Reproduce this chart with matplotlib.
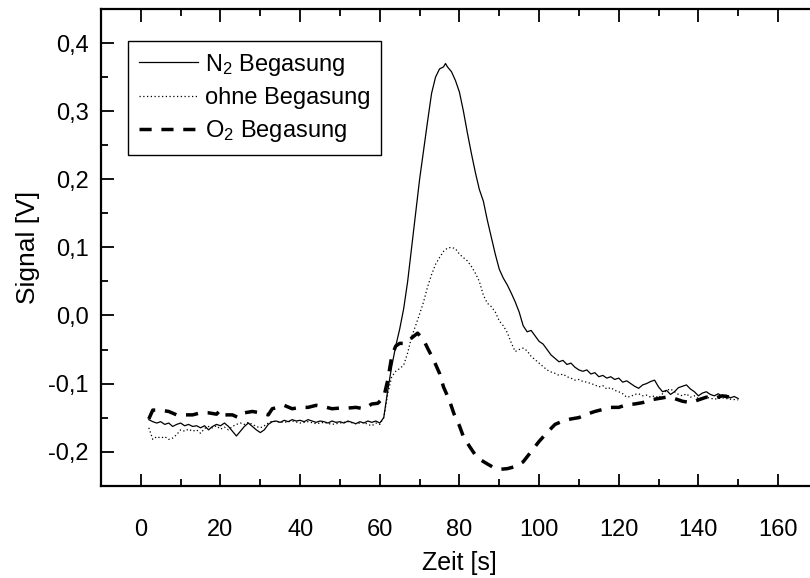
import matplotlib
matplotlib.use('Agg')
import matplotlib.pyplot as plt
from matplotlib.ticker import MultipleLocator, FuncFormatter

plt.rcParams['font.family'] = ['Liberation Sans', 'DejaVu Sans']
plt.rcParams['mathtext.fontset'] = 'custom'
plt.rcParams['mathtext.rm'] = 'Liberation Sans'
plt.rcParams['mathtext.it'] = 'Liberation Sans'

# N2 Begasung
t_n2 = [2, 3, 4, 5, 6, 7, 8, 9, 10, 11, 12, 13, 14, 15, 16, 17, 18, 19, 20,
        21, 22, 23, 24, 25, 26, 27, 28, 29, 30, 31, 32, 33, 34, 35, 36, 37, 38,
        39, 40, 41, 42, 43, 44, 45, 46, 47, 48, 49, 50, 51, 52, 53, 54, 55, 56,
        57, 58, 59, 60, 61, 62, 63, 64, 65, 66, 67, 68, 69, 70, 71, 72, 73, 74,
        75, 76, 76.5, 77, 78, 79, 80, 81, 82, 83, 84, 85, 86, 87, 88, 89, 90,
        91, 92, 93, 94, 95, 96, 97, 98, 99, 100, 101, 102, 103, 104, 105, 106,
        107, 108, 109, 110, 111, 112, 113, 114, 115, 116, 117, 118, 119, 120,
        121, 122, 123, 124, 125, 126, 127, 128, 129, 130, 131, 132, 133, 134,
        135, 136, 137, 138, 139, 140, 141, 142, 143, 144, 145, 146, 147, 148,
        149, 150]
y_n2 = [-0.153, -0.156, -0.158, -0.156, -0.160, -0.158, -0.163, -0.160, -0.158,
        -0.162, -0.160, -0.163, -0.162, -0.165, -0.162, -0.168, -0.163, -0.160,
        -0.162, -0.158, -0.163, -0.170, -0.177, -0.170, -0.163, -0.158, -0.163,
        -0.168, -0.172, -0.168, -0.160, -0.156, -0.155, -0.157, -0.154, -0.156,
        -0.153, -0.155, -0.154, -0.156, -0.153, -0.155, -0.157, -0.155, -0.156,
        -0.158, -0.155, -0.157, -0.156, -0.158, -0.155, -0.157, -0.159, -0.156,
        -0.158, -0.155, -0.157, -0.155, -0.158, -0.150, -0.110, -0.075, -0.045,
        -0.020, 0.010, 0.050, 0.100, 0.150, 0.200, 0.243, 0.285, 0.326, 0.350,
        0.362, 0.365, 0.370, 0.365, 0.358, 0.345, 0.328, 0.300, 0.268, 0.238,
        0.210, 0.185, 0.168, 0.140, 0.115, 0.090, 0.068, 0.055, 0.045, 0.033,
        0.020, 0.005, -0.015, -0.024, -0.022, -0.030, -0.038, -0.042, -0.050,
        -0.058, -0.063, -0.068, -0.066, -0.072, -0.070, -0.076, -0.080, -0.082,
        -0.080, -0.086, -0.084, -0.090, -0.088, -0.092, -0.090, -0.094, -0.092,
        -0.098, -0.096, -0.100, -0.104, -0.107, -0.102, -0.100, -0.097, -0.095,
        -0.105, -0.112, -0.110, -0.116, -0.112, -0.106, -0.104, -0.102, -0.108,
        -0.112, -0.118, -0.114, -0.112, -0.116, -0.118, -0.115, -0.119, -0.117,
        -0.121, -0.119, -0.122]

# ohne Begasung
t_ohne = [2, 3, 4, 5, 6, 7, 8, 9, 10, 11, 12, 13, 14, 15, 16, 17, 18, 19, 20,
          21, 22, 23, 24, 25, 26, 27, 28, 29, 30, 31, 32, 33, 34, 36, 38, 40,
          42, 44, 46, 48, 50, 52, 54, 56, 57, 58, 59, 60, 61, 62, 63, 64, 65,
          66, 67, 68, 69, 70, 71, 72, 73, 74, 75, 76, 77, 78, 79, 80, 81, 82,
          83, 84, 85, 86, 87, 88, 89, 90, 91, 92, 93, 94, 95, 96, 97, 98, 99,
          100, 101, 102, 103, 104, 105, 106, 107, 108, 109, 110, 111, 112, 113,
          114, 115, 116, 117, 118, 119, 120, 121, 122, 123, 124, 125, 126, 127,
          128, 129, 130, 131, 132, 133, 134, 135, 136, 137, 138, 139, 140, 142,
          144, 146, 148, 150]
y_ohne = [-0.165, -0.182, -0.178, -0.180, -0.178, -0.182, -0.180, -0.175,
          -0.168, -0.170, -0.167, -0.170, -0.168, -0.173, -0.166, -0.163,
          -0.165, -0.162, -0.167, -0.164, -0.168, -0.163, -0.160, -0.158,
          -0.160, -0.157, -0.160, -0.163, -0.165, -0.162, -0.158, -0.155,
          -0.156, -0.157, -0.155, -0.158, -0.156, -0.159, -0.157, -0.160,
          -0.158, -0.156, -0.159, -0.157, -0.160, -0.162, -0.158, -0.160,
          -0.150, -0.115, -0.090, -0.082, -0.078, -0.073, -0.055, -0.031,
          -0.015, 0.002, 0.020, 0.042, 0.060, 0.075, 0.085, 0.094, 0.099,
          0.100, 0.098, 0.090, 0.085, 0.080, 0.072, 0.062, 0.050, 0.030, 0.018,
          0.013, 0.005, -0.008, -0.015, -0.025, -0.040, -0.053, -0.050, -0.048,
          -0.052, -0.060, -0.065, -0.070, -0.075, -0.080, -0.083, -0.085,
          -0.088, -0.086, -0.090, -0.092, -0.095, -0.094, -0.097, -0.098,
          -0.100, -0.102, -0.105, -0.103, -0.108, -0.106, -0.110, -0.112,
          -0.115, -0.120, -0.119, -0.116, -0.115, -0.118, -0.117, -0.120,
          -0.118, -0.121, -0.115, -0.110, -0.108, -0.112, -0.116, -0.118,
          -0.115, -0.120, -0.118, -0.122, -0.120, -0.123, -0.121, -0.123,
          -0.124]

# O2 Begasung
t_o2 = [2, 3, 5, 7, 9, 11, 13, 15, 17, 19, 20, 21, 23, 24.5, 26, 28, 30, 32,
        33, 35, 36, 38, 40, 42, 44, 46, 48, 50, 52, 54, 56, 58, 59.5, 61, 62,
        63, 64, 65, 66.5, 68, 69.5, 71, 72, 73.5, 75, 76, 77.5, 78.6, 80, 81,
        82.5, 84, 85.3, 87, 88.5, 90, 92, 94, 96, 98, 100, 102, 104, 106, 108,
        110, 112, 114, 116, 118, 120, 122, 124, 126, 128, 130, 132, 134, 136,
        138, 140, 142, 144, 146, 148, 150]
y_o2 = [-0.152, -0.139, -0.139, -0.141, -0.146, -0.146, -0.146, -0.143,
        -0.143, -0.145, -0.139, -0.146, -0.146, -0.150, -0.143, -0.141,
        -0.143, -0.146, -0.137, -0.134, -0.132, -0.137, -0.135, -0.135,
        -0.132, -0.134, -0.137, -0.136, -0.136, -0.135, -0.137, -0.130,
        -0.129, -0.120, -0.095, -0.060, -0.045, -0.041, -0.041, -0.033,
        -0.026, -0.036, -0.048, -0.065, -0.085, -0.105, -0.125, -0.144,
        -0.162, -0.178, -0.192, -0.205, -0.212, -0.218, -0.223, -0.226,
        -0.225, -0.222, -0.215, -0.200, -0.185, -0.172, -0.160, -0.155,
        -0.152, -0.150, -0.145, -0.141, -0.138, -0.135, -0.135, -0.131,
        -0.130, -0.128, -0.124, -0.122, -0.120, -0.122, -0.126, -0.128,
        -0.124, -0.120, -0.122, -0.118, -0.120, -0.120]

fig = plt.figure(figsize=(8.1, 5.78), dpi=100)
# die rechte Kante liegt ausserhalb des Bildes wie im Original
ax = fig.add_axes([0.1247, 0.1597, 0.885, 0.8247])

ax.plot(t_n2, y_n2, color='black', lw=0.9, label=r'N$_2$ Begasung')
ax.plot(t_ohne, y_ohne, color='black', lw=0.9, linestyle=(0, (1, 2)),
        label='ohne Begasung')
ax.plot(t_o2, y_o2, color='black', lw=2.5, linestyle=(0, (3.5, 2.8)),
        label=r'O$_2$ Begasung')

ax.set_xlim(-10, 170)
ax.set_ylim(-0.25, 0.45)
ax.xaxis.set_major_locator(MultipleLocator(20))
ax.xaxis.set_minor_locator(MultipleLocator(10))
ax.yaxis.set_major_locator(MultipleLocator(0.1))
ax.yaxis.set_minor_locator(MultipleLocator(0.05))
ax.yaxis.set_major_formatter(FuncFormatter(lambda v, p: f'{v:.1f}'.replace('.', ',').replace('-0,0', '0,0')))

ax.tick_params(which='both', direction='in', top=True, right=False, labelsize=17, width=1.3)
ax.tick_params(which='major', length=9)
ax.tick_params(which='minor', length=5)
ax.tick_params(axis='x', which='major', pad=24)
ax.tick_params(axis='y', which='major', pad=9)
for s in ax.spines.values():
    s.set_linewidth(1.6)

ax.set_xlabel('Zeit [s]', fontsize=18, labelpad=7)
ax.set_ylabel('Signal [V]', fontsize=19, labelpad=6)

leg = ax.legend(loc='upper left', bbox_to_anchor=(0.038, 0.933), borderaxespad=0,
                fontsize=17, handlelength=2.5, labelspacing=0.4, handletextpad=0.3,
                fancybox=False, framealpha=1, edgecolor='black', borderpad=0.45)
leg.get_frame().set_linewidth(1.0)

fig.savefig('out.png', dpi=100)
